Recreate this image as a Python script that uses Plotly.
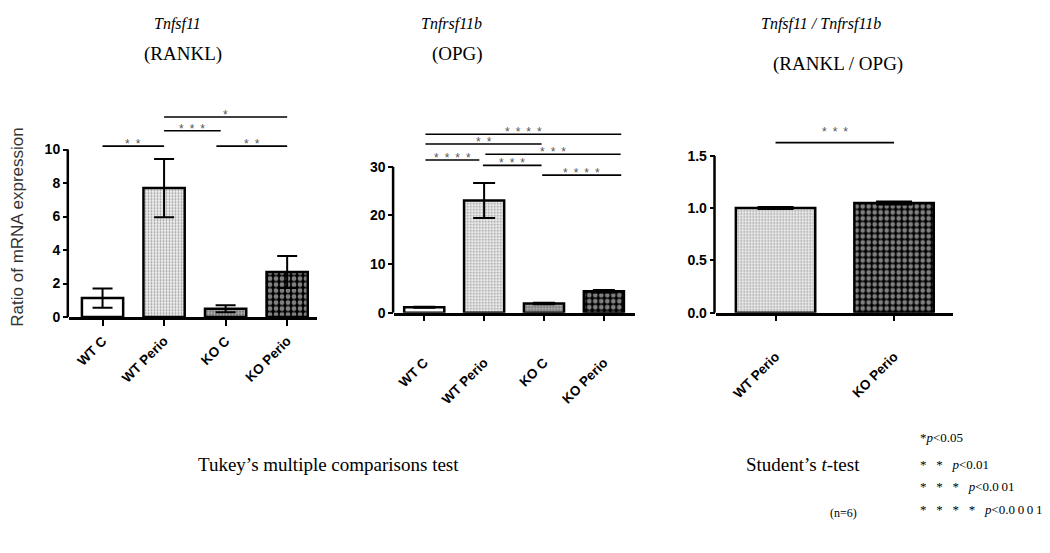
import plotly.graph_objects as go

W, H = 1050, 553

# ---------------- data ----------------
groups4 = ["WT C", "WT Perio", "KO C", "KO Perio"]
groups2 = ["WT Perio", "KO Perio"]

rankl_mean = [1.13, 7.70, 0.49, 2.69]
rankl_sd = [0.58, 1.74, 0.21, 0.95]

opg_mean = [1.10, 23.1, 1.90, 4.40]
opg_sd = [0.10, 3.60, 0.15, 0.25]

ratio_mean = [1.003, 1.050]
ratio_sd = [0.010, 0.015]

# significance brackets: start pos, end pos, height, number of stars
rankl_sig_x0 = [0, 1, 1, 1.85]
rankl_sig_x1 = [1, 1.92, 3, 3]
rankl_sig_y = [10.2, 11.12, 11.94, 10.2]
rankl_sig_n = [2, 3, 1, 2]

opg_sig_x0 = [0.02, 0.02, 1.02, 0.02, 0.98, 1.97]
opg_sig_x1 = [3.29, 1.96, 3.28, 0.92, 1.96, 3.29]
opg_sig_y = [36.7, 34.7, 32.6, 31.4, 30.3, 28.3]
opg_sig_n = [4, 2, 3, 4, 3, 4]

ratio_sig_x0 = [0]
ratio_sig_x1 = [1]
ratio_sig_y = [1.628]
ratio_sig_n = [3]

rankl_ticks = [0, 2, 4, 6, 8, 10]
opg_ticks = [0, 10, 20, 30]
ratio_ticks = [0.0, 0.5, 1.0, 1.5]
ratio_ticktext = ["0.0", "0.5", "1.0", "1.5"]

# ---------------- styles ----------------
pat4 = dict(
    shape=["", ".", ".", "."],
    fgcolor=["white", "#8a8a8a", "#111111", "#ffffff"],
    bgcolor=["white", "#eeeeee", "#6e6e6e", "#000000"],
    size=[4, 3, 3, 6],
    solidity=[0.1, 0.3, 0.5, 0.5],
)
pat2 = dict(
    shape=[".", "."],
    fgcolor=["#8a8a8a", "#ffffff"],
    bgcolor=["#eeeeee", "#000000"],
    size=[3, 6],
    solidity=[0.3, 0.5],
)

XT_FONT = dict(family="Liberation Sans, Arial, sans-serif", size=13.5, color="black")
YT_FONT = dict(family="Liberation Sans, Arial, sans-serif", size=14, color="black")
SERIF = "Liberation Serif, Times New Roman, serif"
STAR_COLOR = "#555555"

# panel geometry (pixels)
panels = [
    dict(xl=69, xr=316.7, y0=321.7, yt=109.2, xrange=[-0.545, 3.48], yrange=[0, 12.5], star_shift=-7),
    dict(xl=394.3, xr=635, y0=317.3, yt=120.0, xrange=[-0.5, 3.52], yrange=[0, 40], star_shift=-7),
    dict(xl=715.7, xr=953.3, y0=317.3, yt=121.2, xrange=[-0.505, 1.5], yrange=[0, 1.85], star_shift=2),
]

fig = go.Figure()

traces = [
    (groups4, rankl_mean, rankl_sd, pat4, 10),
    (groups4, opg_mean, opg_sd, pat4, 11),
    (groups2, ratio_mean, ratio_sd, pat2, 18),
]
for k, (cats, m, sd, pat, ew) in enumerate(traces):
    sfx = "" if k == 0 else str(k + 1)
    fig.add_trace(go.Bar(
        x=list(range(len(cats))), y=m,
        xaxis="x" + sfx, yaxis="y" + sfx,
        width=0.67,
        marker=dict(color=pat["bgcolor"], line=dict(color="black", width=2.5), pattern=pat),
        error_y=dict(type="data", array=sd, visible=True, color="black", thickness=2, width=ew),
        showlegend=False, hoverinfo="skip",
    ))

layout = dict(
    width=W, height=H, margin=dict(l=0, r=0, t=0, b=0),
    paper_bgcolor="white", plot_bgcolor="white", showlegend=False,
)

tick_sets = [
    (rankl_ticks, [str(t) for t in rankl_ticks], groups4, 2),
    (opg_ticks, [str(t) for t in opg_ticks], groups4, 28),
    (ratio_ticks, ratio_ticktext, groups2, 22),
]
shapes = []
annotations = []
sig_sets = [
    (rankl_sig_x0, rankl_sig_x1, rankl_sig_y, rankl_sig_n),
    (opg_sig_x0, opg_sig_x1, opg_sig_y, opg_sig_n),
    (ratio_sig_x0, ratio_sig_x1, ratio_sig_y, ratio_sig_n),
]
for k, p in enumerate(panels):
    sfx = "" if k == 0 else str(k + 1)
    xd = [p["xl"] / W, p["xr"] / W]
    yd = [1 - p["y0"] / H, 1 - p["yt"] / H]
    tv, tt, cats, standoff = tick_sets[k]
    layout["xaxis" + sfx] = dict(
        domain=xd, range=p["xrange"], anchor="y" + sfx,
        tickvals=list(range(len(cats))), ticktext=["<b>%s</b>" % c for c in cats], tickangle=-45,
        tickfont=XT_FONT, ticks="outside", ticklen=6, tickwidth=2, tickcolor="black",
        showline=True, linewidth=2.5, linecolor="black", showgrid=False, zeroline=False,
        ticklabelstandoff=standoff, fixedrange=True,
    )
    layout["yaxis" + sfx] = dict(
        domain=yd, range=p["yrange"], anchor="x" + sfx,
        tickvals=tv, ticktext=["<b>%s</b>" % t for t in tt], tickfont=YT_FONT,
        ticks="outside", ticklen=5, tickwidth=2, tickcolor="black",
        showline=False, showgrid=False, zeroline=False, fixedrange=True,
    )
    # y-axis line only up to the last tick
    shapes.append(dict(type="line", xref="paper", yref="y" + sfx,
                       x0=(p["xl"] - 1.2) / W, x1=(p["xl"] - 1.2) / W,
                       y0=0, y1=tv[-1], line=dict(color="black", width=2.5), layer="above"))
    sx0, sx1, sy, sn = sig_sets[k]
    for a, b, yy, n in zip(sx0, sx1, sy, sn):
        shapes.append(dict(type="line", xref="x" + sfx, yref="y" + sfx,
                           x0=a, x1=b, y0=yy, y1=yy,
                           line=dict(color="black", width=1.6)))
        annotations.append(dict(
            x=(a + b) / 2, y=yy, xref="x" + sfx, yref="y" + sfx,
            text="\u2002".join(["*"] * n), showarrow=False,
            xanchor="center", yanchor="bottom", yshift=p["star_shift"],
            font=dict(family="Liberation Sans, Arial", size=12, color=STAR_COLOR),
        ))

def txt(text, xpx, ypx, size, italic=False, anchor="center", family=SERIF, color="black", angle=0):
    annotations.append(dict(
        text=text, x=xpx / W, y=1 - ypx / H, xref="paper", yref="paper",
        showarrow=False, xanchor=anchor, yanchor="middle", textangle=angle,
        font=dict(family=family, size=size, color=color, style="italic" if italic else "normal"),
    ))

# titles
txt("Tnfsf11", 177, 24, 16, italic=True)
txt("(RANKL)", 183, 55, 19)
txt("Tnfrsf11b", 451, 24, 16, italic=True)
txt("(OPG)", 457, 55, 19)
txt("Tnfsf11 / Tnfrsf11b", 821, 24, 16, italic=True)
txt("(RANKL / OPG)", 838, 65, 19)

# y-axis title
txt("Ratio of mRNA expression", 18, 231, 17, family="Liberation Sans, Arial, sans-serif",
    color="#333333", angle=-90)

# bottom texts
txt("Tukey\u2019s multiple comparisons test", 328, 471, 19)
txt("Student\u2019s <i>t</i>-test", 803, 471, 19)
txt("(n=6)", 843, 521, 12)

legend_lines = [
    "*<i>p</i>&lt;0.05",
    "* \u2002* \u2002<i>p</i>&lt;0.01",
    "* \u2002* \u2002* \u2002<i>p</i>&lt;0.0\u200901",
    "* \u2002* \u2002* \u2002* \u2002<i>p</i>&lt;0.0\u20090\u20090\u20091",
]
legend_y = [444, 471, 494, 517]
for t, yy in zip(legend_lines, legend_y):
    txt(t, 918, yy, 13, anchor="left")

layout["shapes"] = shapes
layout["annotations"] = annotations
fig.update_layout(**layout)

fig.write_html("out.html", config={"displayModeBar": False},
               post_script="document.body.style.margin='0px';document.body.style.padding='0px';")
